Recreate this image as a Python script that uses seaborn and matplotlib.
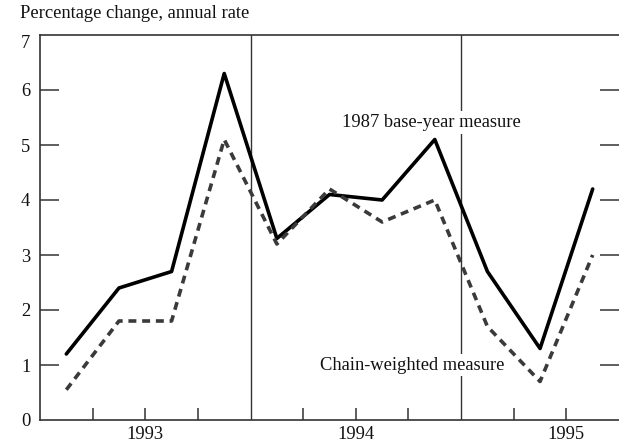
import matplotlib
matplotlib.use("Agg")
import matplotlib.pyplot as plt
import seaborn as sns
import pandas as pd

quarters = list(range(11))  # 1993Q1 .. 1995Q3
base_year = [1.2, 2.4, 2.7, 6.3, 3.3, 4.1, 4.0, 5.1, 2.7, 1.3, 4.2]
chain_weighted = [0.55, 1.8, 1.8, 5.1, 3.2, 4.2, 3.6, 4.0, 1.7, 0.7, 3.0]
years = ["1993", "1994", "1995"]
yticks = [0, 1, 2, 3, 4, 5, 6, 7]

sns.set_theme(style="white")
plt.rcParams['font.family'] = ['Liberation Serif', 'DejaVu Serif']

FS = 13.3

df = pd.DataFrame({
    "x": [q + 0.5 for q in quarters] * 2,
    "value": base_year + chain_weighted,
    "series": ["1987 base-year measure"] * 11 + ["Chain-weighted measure"] * 11,
})

fig = plt.figure(figsize=(6.19, 4.42), dpi=100)
ax = fig.add_axes([40 / 619, 22 / 442, 1 - 40 / 619, (420 - 35) / 442])

ax.axvline(4, color="#333333", lw=1.0, zorder=1)
ax.axvline(8, color="#333333", lw=1.0, zorder=1)

sns.lineplot(data=df, x="x", y="value", hue="series", style="series",
             palette={"1987 base-year measure": "black", "Chain-weighted measure": "#3a3a3a"},
             dashes={"1987 base-year measure": "", "Chain-weighted measure": (2.2, 1.6)},
             linewidth=2.6, legend=False, ax=ax, zorder=3)

ax.set_xlim(0, 11)
ax.set_ylim(0, 7)
ax.set_xlabel("")
ax.set_ylabel("")

for s in ["left", "bottom", "top"]:
    ax.spines[s].set_visible(True)
    ax.spines[s].set_color("#333333")
    ax.spines[s].set_linewidth(1.2)
ax.spines["right"].set_visible(False)

# quarter ticks
ax.xaxis.remove_overlapping_locs = False
ax.set_xticks([1, 2, 3, 5, 6, 7, 9, 10])
ax.set_xticklabels([])
ax.tick_params(axis="x", which="major", direction="in", length=9, width=1.1,
               color="#333333", bottom=True)
ax.set_xticks([2, 6, 10], minor=True)
ax.set_xticklabels(years, minor=True)
ax.tick_params(axis="x", which="minor", length=0, pad=4.5, labelsize=FS, labelcolor="#111111")

ax.set_yticks(yticks)
ax.set_yticklabels([str(v) for v in yticks])
ax.tick_params(axis="y", direction="in", length=14, width=1.1, color="#333333",
               left=True, right=True, labelsize=FS, pad=7, labelcolor="#111111")
for t in ax.yaxis.get_major_ticks():
    if t.get_loc() in (0, 7):
        t.tick1line.set_visible(False)
        t.tick2line.set_visible(False)
    if t.get_loc() == 7:
        t.label1.set_verticalalignment("top")

bbox = dict(facecolor="white", edgecolor="none", pad=2)
ax.text(7.43, 5.41, "1987 base-year measure", ha="center", va="center",
        fontsize=FS, color="#111111", bbox=bbox, zorder=4)
ax.text(7.08, 1.0, "Chain-weighted measure", ha="center", va="center",
        fontsize=FS, color="#111111", bbox=bbox, zorder=4)

fig.text(20 / 619, 1 - 13 / 442, "Percentage change, annual rate", ha="left", va="center",
         fontsize=FS, color="#111111")

fig.savefig("out.png", dpi=100)
